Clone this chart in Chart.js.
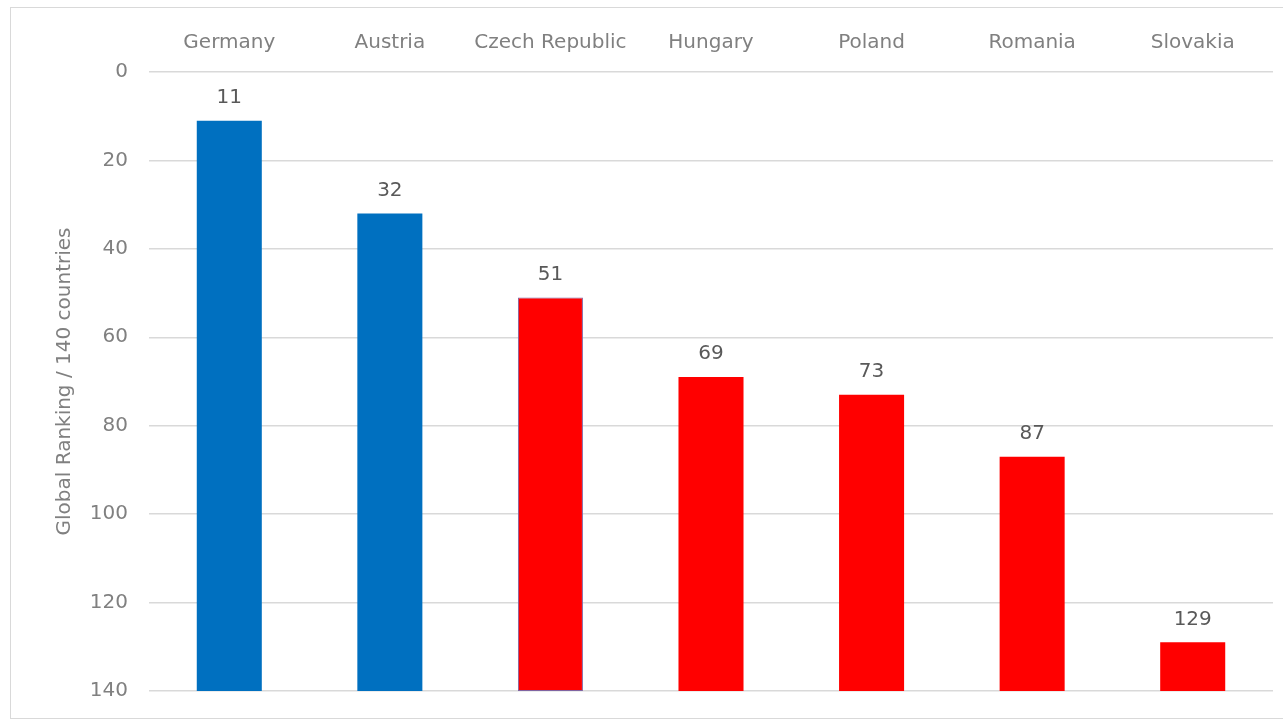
<!DOCTYPE html>
<html lang="en">
<head>
  <meta charset="utf-8" />
  <title>Global Ranking / 140 countries</title>
  <script src="https://cdn.jsdelivr.net/npm/chart.js@4.4.1/dist/chart.umd.min.js"></script>
  <style>
    html, body { margin: 0; padding: 0; background: #fff; }
    #wrap { position: relative; width: 1283px; height: 720px; overflow: hidden; }
    #frame {
      position: absolute; left: 10px; top: 7px; width: 1290px; height: 710px;
      border: 1px solid #d9d9d9; pointer-events: none;
    }
    canvas { position: absolute; left: 0; top: 0; }
  </style>
</head>
<body>
  <div id="wrap">
    <canvas id="c" width="1283" height="720"></canvas>
    <div id="frame"></div>
  </div>
  <script>
    const countries = ['Germany', 'Austria', 'Czech Republic', 'Hungary', 'Poland', 'Romania', 'Slovakia'];
    const ranks = [11, 32, 51, 69, 73, 87, 129];
    const barColors = ['#0070C0', '#0070C0', '#FF0000', '#FF0000', '#FF0000', '#FF0000', '#FF0000'];
    const borderColors = ['#0070C0', '#0070C0', '#8064A2', '#FF0000', '#FF0000', '#FF0000', '#FF0000'];
    const yMin = 0;
    const yMax = 140;
    const yStep = 20;

    const FONT = 'DejaVu Sans';

    // value labels above each bar
    const valueLabels = {
      id: 'valueLabels',
      afterDatasetsDraw(chart) {
        const { ctx } = chart;
        const meta = chart.getDatasetMeta(0);
        ctx.save();
        ctx.font = '20px "' + FONT + '"';
        ctx.fillStyle = '#595959';
        ctx.textAlign = 'center';
        ctx.textBaseline = 'bottom';
        meta.data.forEach((bar, i) => {
          ctx.fillText(String(ranks[i]), bar.x, chart.scales.y.getPixelForValue(ranks[i]) - 13);
        });
        ctx.restore();
      },
    };

    new Chart(document.getElementById('c'), {
      type: 'bar',
      data: {
        labels: countries,
        datasets: [{
          data: ranks.map((r) => [r, yMax]),
          backgroundColor: barColors,
          borderColor: borderColors,
          borderWidth: ranks.map((_, i) => (i === 2 ? 1 : 0)),
          borderSkipped: false,
          categoryPercentage: 1,
          barPercentage: 0.405,
        }],
      },
      options: {
        responsive: false,
        animation: false,
        layout: { padding: { left: 49, right: 10, top: 0, bottom: 29 } },
        plugins: { legend: { display: false }, tooltip: { enabled: false } },
        scales: {
          x: {
            position: 'top',
            grid: { display: false },
            border: { display: false },
            ticks: { color: '#808080', font: { family: FONT, size: 20 }, padding: 9, maxRotation: 0 },
            afterFit: (s) => { s.height = 72; },
          },
          y: {
            reverse: true,
            min: yMin,
            max: yMax,
            grid: { color: '#d9d9d9', drawTicks: false, lineWidth: 1.5 },
            border: { display: false },
            ticks: { stepSize: yStep, color: '#808080', font: { family: FONT, size: 20 }, padding: 21 },
            title: {
              display: true,
              text: 'Global Ranking / 140 countries',
              color: '#808080',
              font: { family: FONT, size: 20 },
            },
            afterFit: (s) => { s.width = 100; s.paddingTop = 0; s.paddingBottom = 0; },
          },
        },
      },
      plugins: [valueLabels],
    });
  </script>
</body>
</html>
